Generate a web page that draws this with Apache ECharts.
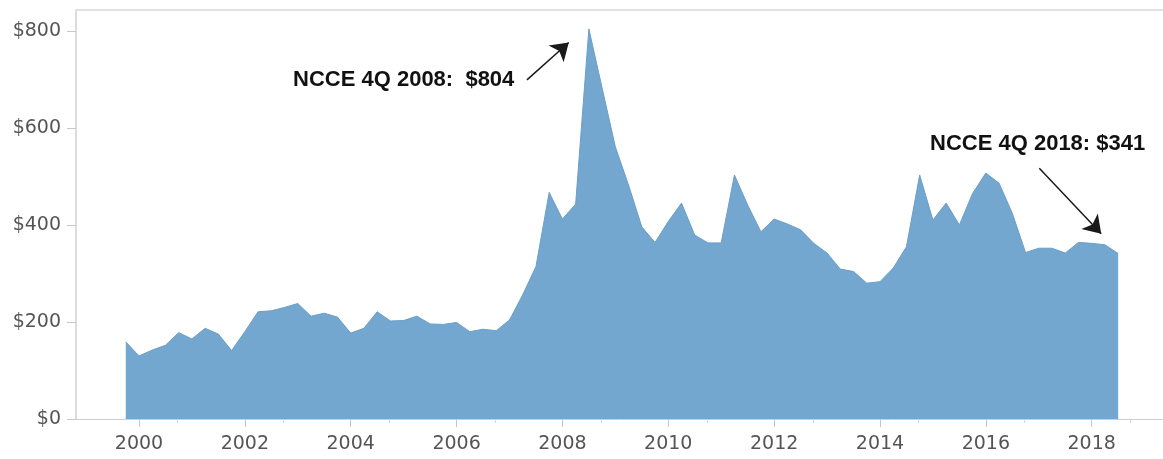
<!DOCTYPE html>
<html><head><meta charset="utf-8">
<script src="https://cdn.jsdelivr.net/npm/echarts@6/dist/echarts.min.js"></script>
<style>html,body{margin:0;padding:0;background:#fff}#c{width:1163px;height:459px}</style>
</head><body><div id="c"></div>
<script>
// Quarter start months (YYYY-MM)
const periods = [
  '1999-10',
  '2000-01','2000-04','2000-07','2000-10',
  '2001-01','2001-04','2001-07','2001-10',
  '2002-01','2002-04','2002-07','2002-10',
  '2003-01','2003-04','2003-07','2003-10',
  '2004-01','2004-04','2004-07','2004-10',
  '2005-01','2005-04','2005-07','2005-10',
  '2006-01','2006-04','2006-07','2006-10',
  '2007-01','2007-04','2007-07','2007-10',
  '2008-01','2008-04','2008-07','2008-10',
  '2009-01','2009-04','2009-07','2009-10',
  '2010-01','2010-04','2010-07','2010-10',
  '2011-01','2011-04','2011-07','2011-10',
  '2012-01','2012-04','2012-07','2012-10',
  '2013-01','2013-04','2013-07','2013-10',
  '2014-01','2014-04','2014-07','2014-10',
  '2015-01','2015-04','2015-07','2015-10',
  '2016-01','2016-04','2016-07','2016-10',
  '2017-01','2017-04','2017-07','2017-10',
  '2018-01','2018-04','2018-07'
];
const values = [
  159,
  130,142,152,178,
  165,187,175,141,
  180,221,223,230,
  238,212,218,210,
  177,187,221,202,
  203,212,196,195,
  199,180,185,182,
  204,256,314,467,
  412,443,804,682,
  561,482,396,364,
  407,445,379,363,
  363,503,441,386,
  412,402,390,362,
  342,309,304,280,
  283,311,355,503,
  410,445,400,465,
  507,486,424,343,
  352,352,342,364,
  362,359,341
];
const yTickValues = [0,200,400,600,800];
const xLabelYears = [2000,2002,2004,2006,2008,2010,2012,2014,2016,2018];
const xMinorTickYears = [2000.73,2002.73,2004.73,2006.73,2008.73,2010.73,2012.73,2014.73,2016.73,2018.73];
const annotationTexts = ['NCCE 4Q 2008:  $804', 'NCCE 4Q 2018: $341'];

function toYear(p){ const [y,m] = p.split('-').map(Number); return y + (m-1)/12; }
const seriesData = periods.map((p,i)=>[toYear(p), values[i]]);

const X_MIN = 1998.81, X_MAX = 2019.347;
const TICK_FONT = {fontFamily:'DejaVu Sans', fontSize:19, color:'#555555'};

const chart = echarts.init(document.getElementById('c'), null, {renderer:'canvas'});
chart.setOption({
  animation:false,
  backgroundColor:'#ffffff',
  grid:{left:76, right:0, top:10, bottom:40},
  xAxis:[
    {type:'value', position:'bottom', min:X_MIN, max:X_MAX,
     axisLine:{show:true, lineStyle:{color:'#cfcfcf', width:1}},
     axisTick:{show:true, length:8, lineStyle:{color:'#c8c8c8'}, customValues:xLabelYears},
     axisLabel:Object.assign({show:true, margin:16, customValues:xLabelYears, formatter:v=>String(Math.round(v))}, TICK_FONT),
     splitLine:{show:false}},
    {type:'value', position:'bottom', min:X_MIN, max:X_MAX,
     axisLine:{show:false},
     axisTick:{show:true, length:4, lineStyle:{color:'#d8d8d8'}, customValues:xMinorTickYears},
     axisLabel:{show:false}, splitLine:{show:false}},
    {type:'value', position:'top', min:X_MIN, max:X_MAX,
     axisLine:{show:true, lineStyle:{color:'#e2e2e2', width:2}},
     axisTick:{show:false}, axisLabel:{show:false}, splitLine:{show:false}}
  ],
  yAxis:{type:'value', min:0, max:843,
    axisLine:{show:true, lineStyle:{color:'#dcdcdc', width:2}},
    axisTick:{show:true, length:9, lineStyle:{color:'#c8c8c8'}, customValues:yTickValues},
    axisLabel:Object.assign({margin:15, customValues:yTickValues, formatter:v=>'$'+v}, TICK_FONT),
    splitLine:{show:false}},
  series:[{
    type:'line', xAxisIndex:0, data:seriesData, symbol:'none', smooth:false,
    lineStyle:{color:'#6b9fc9', width:1},
    areaStyle:{color:'#73a7cf', opacity:1},
    markLine:{
      silent:true, animation:false,
      symbol:['none','arrow'], symbolSize:17,
      lineStyle:{color:'#1a1a1a', width:1.5, type:'solid'},
      itemStyle:{color:'#1a1a1a'},
      label:{show:false},
      emphasis:{disabled:true},
      data:[
        [{coord:[2007.33,699]},{coord:[2008.12,776]}],
        [{coord:[2017.01,517]},{coord:[2018.18,382]}]
      ]
    }
  }],
  graphic:[
    {type:'text', left:293, top:69, style:{text:annotationTexts[0], font:'bold 22px "Liberation Sans"', fill:'#111'}},
    {type:'text', left:930, top:133, style:{text:annotationTexts[1], font:'bold 22px "Liberation Sans"', fill:'#111'}}
  ]
});
</script></body></html>
